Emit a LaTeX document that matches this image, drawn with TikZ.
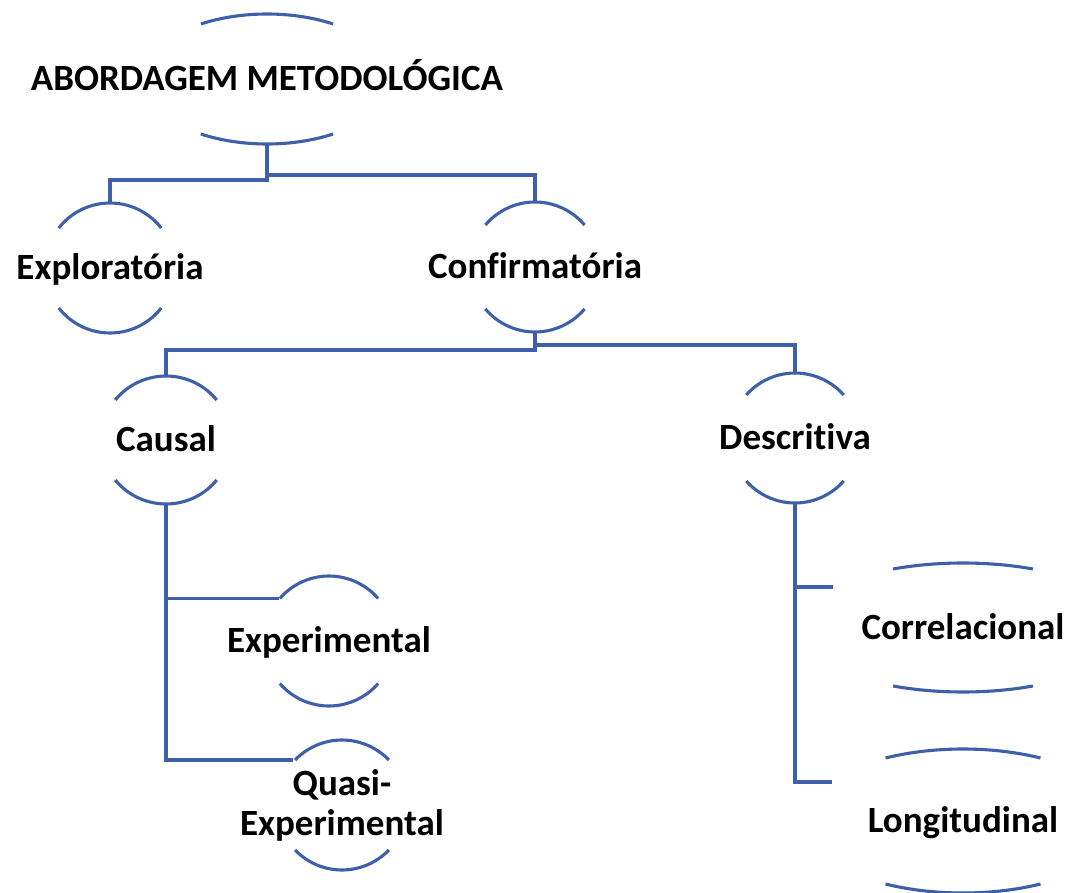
\documentclass[tikz,border=0pt]{standalone}
\usepackage{fontspec}
\setmainfont{Carlito}[Ligatures=NoCommon]
\usetikzlibrary{calc}
\definecolor{lineblue}{RGB}{62,96,170}
\tikzset{
  arcline/.style={draw=lineblue, line width=3.1pt},
  conn/.style={draw=lineblue, line width=3.1pt},
  lbl/.style={font=\fontsize{37}{40}\selectfont\bfseries, inner sep=0pt, text height=23.8pt, text depth=0pt},
  lbltwo/.style={font=\fontsize{37}{40}\selectfont\bfseries, inner sep=0pt, align=center},
}
% #1 node name, #2 x radius, #3 y radius, #4 half height of the hidden band
\newcommand\brackets[4]{%
  \pgfmathsetmacro\tz{asin(#4/#3)}%
  \draw[arcline] ([shift={(180-\tz:#2pt and #3pt)}]#1.center)
     arc[start angle=180-\tz, end angle=\tz, x radius=#2pt, y radius=#3pt];
  \draw[arcline] ([shift={(180+\tz:#2pt and #3pt)}]#1.center)
     arc[start angle=180+\tz, end angle=360-\tz, x radius=#2pt, y radius=#3pt];
}
\begin{document}
\begin{tikzpicture}[x=1pt,y=-1pt]
\useasboundingbox (0,0) rectangle (1069,893);
% nodes
\node[lbl] (title)  at (267,79)    {ABORDAGEM METODOLÓGICA};
\node[lbl] (expl)   at (110,268)   {Exploratória};
\node[lbl] (conf)   at (535,267)   {Confirmatória};
\node[lbl] (causal) at (166,440)   {Causal};
\node[lbl] (desc)   at (795,438)   {Descritiva};
\node[lbl] (exp)    at (329,641)   {Experimental};
\node[lbltwo] (quasi) at (342,805) {Quasi-\\Experimental};
\node[lbl] (corr)   at (963,627.5) {Correlacional};
\node[lbl] (long)   at (963,821)   {Longitudinal};
% bracket arcs
\brackets{title}{124}{65}{55}
\brackets{expl}{65}{65}{40}
\brackets{conf}{65}{65}{42}
\brackets{causal}{65}{64}{40}
\brackets{desc}{65}{65}{43}
\brackets{exp}{65}{65}{42.5}
\brackets{quasi}{65}{65}{45}
\brackets{corr}{166}{64.5}{58.5}
\brackets{long}{160}{72}{63}
% connection points
\coordinate (title-b)  at ($(title.center)+(0,65)$);
\coordinate (expl-t)   at ($(expl.center)+(0,-65)$);
\coordinate (conf-t)   at ($(conf.center)+(0,-65)$);
\coordinate (conf-b)   at ($(conf.center)+(0,65)$);
\coordinate (causal-t) at ($(causal.center)+(0,-64)$);
\coordinate (causal-b) at ($(causal.center)+(0,64)$);
\coordinate (desc-t)   at ($(desc.center)+(0,-65)$);
\coordinate (desc-b)   at ($(desc.center)+(0,65)$);
\coordinate (exp-tl)   at ($(exp.center)+(-50,-42.5)$);
\coordinate (quasi-tl) at ($(quasi.center)+(-49,-45)$);
\coordinate (corr-in)  at ($(corr.center)+(-130,-40.5)$);
\coordinate (long-in)  at ($(long.center)+(-131,-39)$);
% connectors
\draw[conn] (title-b) -- ($(title-b)+(0,36)$) -| (expl-t);
\draw[conn] ($(title-b)+(0,31)$) -| (conf-t);
\draw[conn] (conf-b) -- ($(conf-b)+(0,18)$) -| (causal-t);
\draw[conn] ($(conf-b)+(0,13)$) -| (desc-t);
\draw[conn] (causal-b) |- (quasi-tl);
\draw[conn] (causal-b |- exp-tl) -- (exp-tl);
\draw[conn] (desc-b) |- (long-in);
\draw[conn] (desc-b |- corr-in) -- (corr-in);
\end{tikzpicture}
\end{document}
